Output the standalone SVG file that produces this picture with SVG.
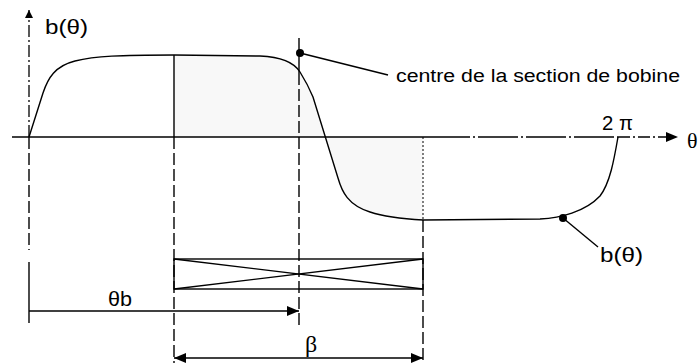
<svg xmlns="http://www.w3.org/2000/svg" width="698" height="363" viewBox="0 0 698 363">
<style>
  .ln{stroke:#000;stroke-width:1.4;fill:none}
  .dash{stroke:#000;stroke-width:1.4;fill:none;stroke-dasharray:12 4}
  .dashdot{stroke:#000;stroke-width:1.3;fill:none;stroke-dasharray:12 3 2 3}
  .dot{stroke:#000;stroke-width:1;fill:none;stroke-dasharray:2 2}
  .t{font-family:"Liberation Sans",Arial,sans-serif;fill:#000}
  .ts{font-family:"Liberation Serif","Times New Roman",serif;fill:#000}
</style>
<defs>
  <marker id="ah" viewBox="0 0 12 10" refX="12" refY="5" markerWidth="12" markerHeight="10" markerUnits="userSpaceOnUse" orient="auto-start-reverse">
    <path d="M0,0 L12,5 L0,10 Z" fill="#000"/>
  </marker>
  <marker id="ahs" viewBox="0 0 8 8" refX="8" refY="4" markerWidth="8" markerHeight="8" markerUnits="userSpaceOnUse" orient="auto">
    <path d="M0,0 L8,4 L0,8 Z" fill="#000"/>
  </marker>
</defs>

<g id="shading">
  <path d="M174,137 L174,55 L260,56 C285,57 295,64 300,72 C305,80 308,85 313,97 L326,137 Z" fill="#f8f8f8"/>
  <path d="M326,137 L338,178 C342,192 348,205 370,212 C385,217 405,219 423,220 L423,137 Z" fill="#f8f8f8"/>
</g>

<g id="axes">
  <line class="dashdot" x1="29" y1="137" x2="29" y2="10" marker-end="url(#ahs)"/>
  <line class="ln" x1="12" y1="137" x2="430" y2="137"/>
  <line class="ln" x1="430" y1="137" x2="618" y2="137" stroke-dasharray="40 3 2 3"/>
  <line class="dashdot" x1="618" y1="137" x2="678" y2="137" marker-end="url(#ah)"/>
  <line class="dash" x1="29" y1="137" x2="29" y2="250"/>
  <line class="ln" x1="29" y1="262" x2="29" y2="323"/>
  <text class="t" x="45" y="34" font-size="20" textLength="43" lengthAdjust="spacingAndGlyphs">b(θ)</text>
  <text class="t" x="602" y="130" font-size="20" textLength="31" lengthAdjust="spacingAndGlyphs">2 π</text>
  <text class="ts" x="687" y="148" font-size="22">θ</text>
</g>

<g id="guides">
  <line class="ln" x1="174" y1="55" x2="174" y2="137"/>
  <line class="dash" x1="174" y1="137" x2="174" y2="363"/>
  <line class="ln" x1="299" y1="38" x2="299" y2="73"/>
  <line class="dash" x1="299" y1="73" x2="299" y2="328"/>
  <line class="dot" x1="423" y1="137" x2="423" y2="220"/>
  <line class="dash" x1="423" y1="220" x2="423" y2="363"/>
</g>

<g id="curve">
  <path class="ln" d="M29,137 L43,93 C48,78 55,66 75,61 C95,56 120,55 174,55 L260,56 C285,57 295,64 300,72 C305,80 308,85 313,97 L338,178 C342,192 348,205 370,212 C385,217 405,219 423,220 L540,219 C560,218 585,212 600,196 C610,183 614,160 618,137"/>
</g>

<g id="label-centre">
  <circle cx="300" cy="53" r="4" fill="#000"/>
  <line class="ln" x1="300" y1="53" x2="388" y2="75"/>
  <text class="t" x="396" y="82" font-size="18" textLength="284" lengthAdjust="spacingAndGlyphs">centre de la section de bobine</text>
</g>

<g id="label-b">
  <circle cx="563" cy="218" r="4" fill="#000"/>
  <line class="ln" x1="563" y1="218" x2="598" y2="247"/>
  <text class="t" x="600" y="262" font-size="20" textLength="43" lengthAdjust="spacingAndGlyphs">b(θ)</text>
</g>

<g id="coil">
  <rect class="ln" x="174" y="259" width="249" height="30"/>
  <line class="ln" x1="174" y1="259" x2="423" y2="289"/>
  <line class="ln" x1="174" y1="289" x2="423" y2="259"/>
</g>

<g id="dimensions">
  <line class="ln" x1="29" y1="311" x2="299" y2="311" marker-end="url(#ah)"/>
  <text class="t" x="108" y="306" font-size="20" textLength="24" lengthAdjust="spacingAndGlyphs">θb</text>
  <line class="ln" x1="174" y1="358" x2="423" y2="358" marker-start="url(#ah)" marker-end="url(#ah)"/>
  <text class="ts" x="305" y="352" font-size="24">β</text>
</g>
</svg>
